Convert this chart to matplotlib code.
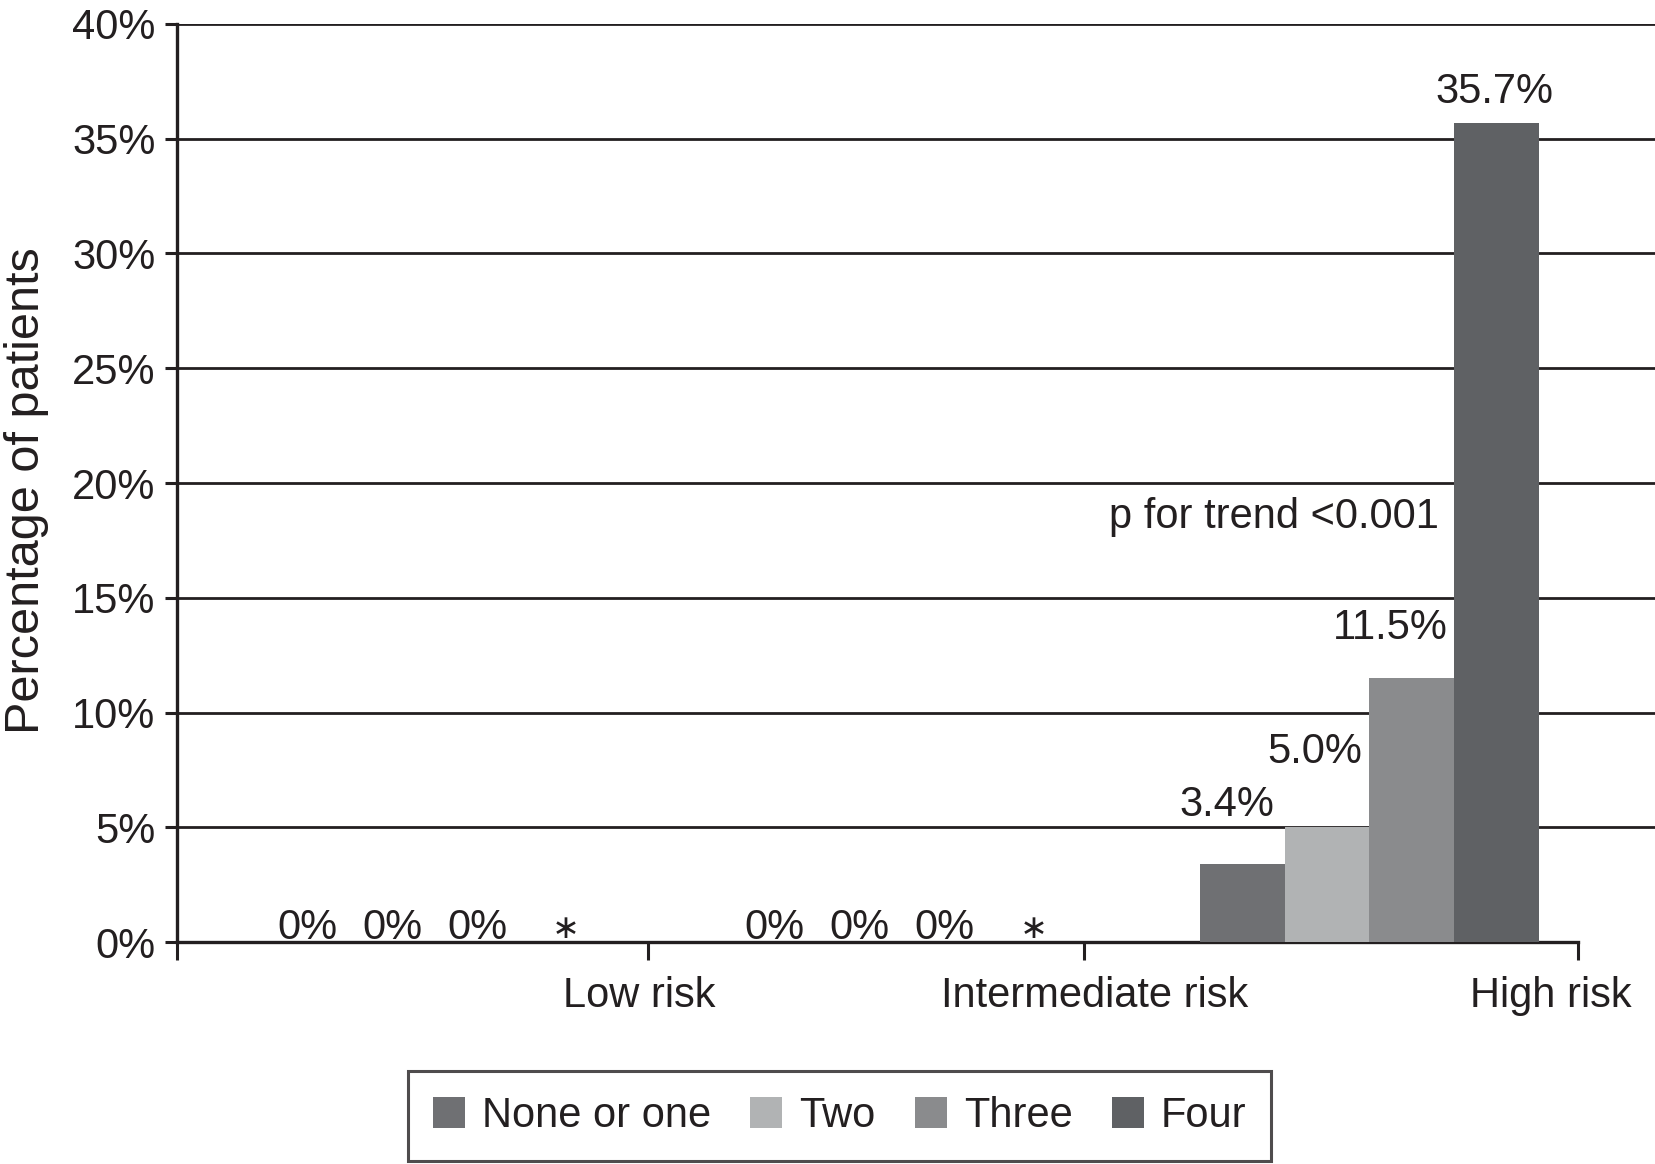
"""
Percentage of patients by risk group and number of factors (grouped bars).
"""

import matplotlib.pyplot as plt
import numpy as np

plt.rcParams["font.family"] = ["Liberation Sans", "DejaVu Sans"]

groups = ["Low risk", "Intermediate risk", "High risk"]
series = ["None or one", "Two", "Three", "Four"]
# None = no patients in that cell (shown as an asterisk)
values = {
    "None or one": [0.0, 0.0, 3.4],
    "Two": [0.0, 0.0, 5.0],
    "Three": [0.0, 0.0, 11.5],
    "Four": [None, None, 35.7],
}
colors = ["#6f7073", "#b1b3b4", "#8a8b8d", "#5f6164"]
yticks = [0, 5, 10, 15, 20, 25, 30, 35, 40]
# offsets (pixels) of the value labels in the high-risk group
label_dx = [-15, -12, -22, -2]
label_dy = [59, 75, 50, 31]

INK = "#231f20"
FS = 30


def main() -> None:
    fig = plt.figure(figsize=(16.56, 11.64), dpi=100)
    ax = fig.add_axes([0.1069, 0.1907, 0.8931, 0.7887])

    x = np.arange(len(groups))
    width = 0.1816
    for i, name in enumerate(series):
        pos = x + (i - 1.5) * width
        heights = [v if v is not None else 0 for v in values[name]]
        ax.bar(pos, heights, width, color=colors[i], label=name, zorder=3)
        for j, v in enumerate(values[name]):
            if v is None:
                ax.annotate("∗", (pos[j], 0), xytext=(4, 14), textcoords="offset pixels",
                            ha="center", va="center", fontsize=24, color=INK,
                            family="DejaVu Sans", zorder=4)
            elif v == 0:
                ax.annotate("0%", (pos[j], 0), xytext=(0, 3), textcoords="offset pixels",
                            ha="center", va="baseline", fontsize=FS, color=INK, zorder=4)
            else:
                ax.annotate(f"{v:.1f}%", (pos[j], v), xytext=(label_dx[i], label_dy[i]),
                            textcoords="offset pixels", ha="center", va="center",
                            fontsize=FS, color=INK, zorder=4)

    ax.text(1.795, 18.53, "p for trend <0.001", ha="center", va="center",
            fontsize=FS, color=INK)

    ax.set_xlim(-0.551, 2.613)
    ax.set_ylim(0, 40)
    ax.set_yticks(yticks)
    ax.set_yticklabels([f"{t}%" for t in yticks], fontsize=FS, color=INK)
    ax.yaxis.grid(True, color=INK, linewidth=2.0, zorder=0)
    ax.set_axisbelow(True)
    ax.yaxis.get_gridlines()[0].set_visible(False)

    # category ticks sit between groups; labels placed below them
    ax.set_xticks([-0.551, 0.457, 1.389, 2.447])
    ax.set_xticklabels([])
    ax.tick_params(axis="x", direction="out", length=13, width=2.2, color=INK)
    ax.tick_params(axis="y", direction="out", length=8.6, width=2.2, color=INK, pad=7)
    for xl, g in zip([0.438, 1.412, 2.389], groups):
        ax.text(xl, -54 / (942 - 24), g, transform=ax.get_xaxis_transform(),
                ha="center", va="center", fontsize=FS, color=INK)

    for side in ["top", "right"]:
        ax.spines[side].set_visible(False)
    ax.spines["left"].set_color(INK)
    ax.spines["left"].set_linewidth(2.4)
    ax.spines["bottom"].set_color(INK)
    ax.spines["bottom"].set_linewidth(2.4)
    ax.spines["bottom"].set_bounds(-0.551, 2.447)

    fig.text(27 / 1656, 1 - 491 / 1164, "Percentage of patients", rotation=90,
             ha="center", va="center", fontsize=35, color=INK)

    leg = fig.legend(loc="center", bbox_to_anchor=(0.507, 0.0415), ncol=4,
                     fontsize=FS, frameon=True, fancybox=False, handlelength=0.77,
                     handleheight=0.77, handletextpad=0.4, columnspacing=0.95,
                     borderpad=0.6, borderaxespad=0)
    frame = leg.get_frame()
    frame.set_edgecolor(INK)
    frame.set_linewidth(2.2)
    for t in leg.get_texts():
        t.set_color(INK)

    fig.savefig("out.png", dpi=100)
    plt.close(fig)


if __name__ == "__main__":
    main()
